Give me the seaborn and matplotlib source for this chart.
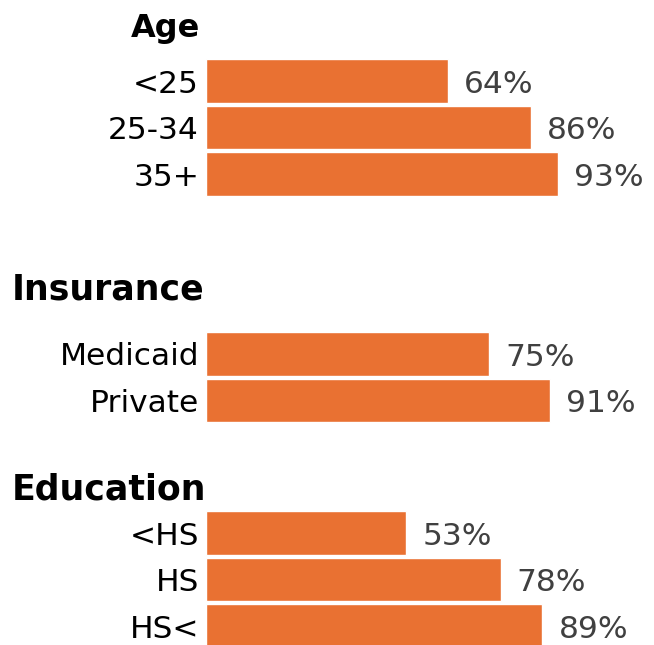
import matplotlib
matplotlib.use('Agg')

import pandas as pd
import matplotlib.pyplot as plt
import seaborn as sns

# data
age_labels = ['<25', '25-34', '35+']
age_values = [64, 86, 93]

insurance_labels = ['Medicaid', 'Private']
insurance_values = [75, 91]

education_labels = ['<HS', 'HS', 'HS<']
education_values = [53, 78, 89]

group_titles = ['Age', 'Insurance', 'Education']

sns.set_theme(style='white')
plt.rcParams['font.family'] = ['DejaVu Sans']

BAR_COLOR = '#E97132'
TEXT_GRAY = '#404040'
W, H = 654, 645

fig = plt.figure(figsize=(W / 100, H / 100), dpi=100)


def px_axes(top, bottom, left=206, right=584):
    """Add axes given pixel edges (from top-left)"""
    return fig.add_axes([left / W, 1 - bottom / H, (right - left) / W, (bottom - top) / H])


def draw_group(ax, labels, values):
    df = pd.DataFrame({'label': labels, 'value': values})
    sns.barplot(data=df, x='value', y='label', color=BAR_COLOR, saturation=1,
                width=0.94, orient='h', ax=ax)
    ax.set_xlim(0, 100)
    ax.set_ylim(len(labels) - 0.5, -0.5)
    ax.set_xlabel('')
    ax.set_ylabel('')
    ax.set_xticks([])
    ax.tick_params(axis='y', length=0, pad=5, labelsize=22.5, labelcolor='black')
    sns.despine(ax=ax, left=True, bottom=True)

    # value labels placed just beyond the end of each bar
    for patch, val in zip(ax.patches, values):
        ax.annotate(f'{val}%',
                    xy=(patch.get_width(), patch.get_y() + patch.get_height() / 2),
                    xytext=(11.5, -2.5), textcoords='offset points',
                    ha='left', va='center', fontsize=22.5, color=TEXT_GRAY)
    return ax


ax_age = px_axes(57.75, 197.25)
draw_group(ax_age, age_labels, age_values)

ax_ins = px_axes(330.75, 423.75)
draw_group(ax_ins, insurance_labels, insurance_values)

ax_edu = px_axes(509.75, 649.25)
draw_group(ax_edu, education_labels, education_values)

for ax in (ax_age, ax_ins, ax_edu):
    ax.patch.set_alpha(0)

# group headers
fig.text(200 / W, 1 - 37 / H, group_titles[0], ha='right', va='baseline',
         fontsize=23, fontweight='bold', color='black')
fig.text(12 / W, 1 - 300 / H, group_titles[1], ha='left', va='baseline',
         fontsize=25, fontweight='bold', color='black')
fig.text(12 / W, 1 - 500 / H, group_titles[2], ha='left', va='baseline',
         fontsize=25, fontweight='bold', color='black')

fig.savefig('out.png', dpi=100, facecolor='white')
